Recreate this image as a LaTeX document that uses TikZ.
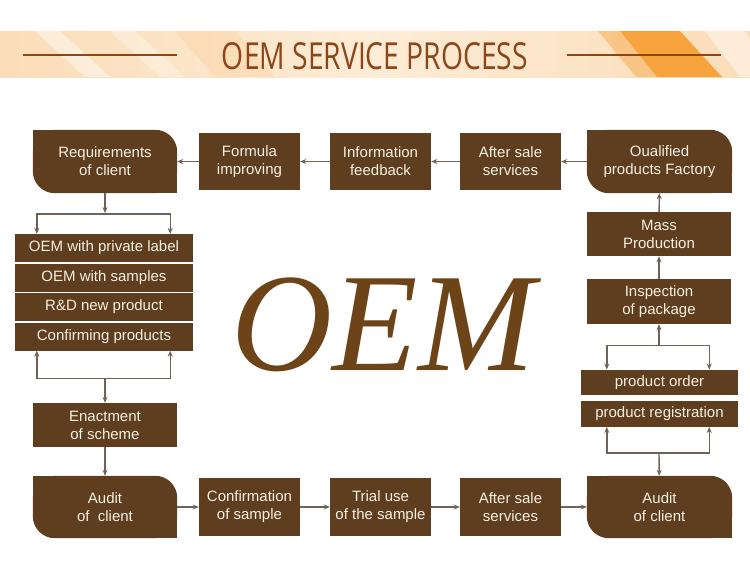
\documentclass[tikz,border=0pt]{standalone}
\usepackage{fontspec}
\usepackage{graphicx}
\setmainfont{Liberation Sans}
\newfontfamily\titlefont{Open Sans}
\newfontfamily\oemfont{Liberation Serif}
\usetikzlibrary{arrows.meta, backgrounds}

\definecolor{boxbrown}{RGB}{94,62,30}
\definecolor{boxtext}{RGB}{246,240,228}
\definecolor{linkgray}{RGB}{112,98,86}
\definecolor{titlebrown}{RGB}{140,70,24}
\definecolor{oembrown}{RGB}{108,68,24}
\definecolor{bannerA}{RGB}{251,221,184}
\definecolor{bannerB}{RGB}{253,236,214}
\definecolor{bandorange}{RGB}{247,163,62}

\begin{document}
\begin{tikzpicture}[
            x=1pt,
            y=-1pt,
            >={Stealth[length=6pt,width=5pt]},
            box/.style={fill=boxbrown, text=boxtext, font=\fontsize{15}{18}\selectfont,
                align=center, inner sep=0pt, minimum width=101pt, minimum height=57pt},
            leaf/.style={box, fill=none, minimum width=144pt, minimum height=63pt},
            wide/.style={box, minimum width=144pt, minimum height=44pt},
            row/.style={box, minimum width=178pt, minimum height=28pt},
            slim/.style={box, minimum width=157pt, minimum height=25.5pt},
            link/.style={draw=linkgray, line width=1.4pt}
            ]

            \useasboundingbox (0,0) rectangle (750,570);

            % 标题栏
            \shade[left color=bannerA, right color=bannerA, middle color=bannerB] (0,31) rectangle (750,77);
            \fill[white, opacity=.45] (35,31) -- (60,31) -- (110,77) -- (85,77) -- cycle;
            \fill[white, opacity=.3] (110,31) -- (135,31) -- (185,77) -- (160,77) -- cycle;
            \fill[bannerA!80!orange, opacity=.3] (175,31) -- (235,31) -- (275,77) -- (215,77) -- cycle;
            \fill[bandorange, opacity=.45] (598,31) -- (620,31) -- (657,77) -- (636,77) -- cycle;
            \fill[bandorange] (620,31) -- (680,31) -- (722,77) -- (657,77) -- cycle;
            \fill[white, opacity=.45] (705,31) -- (745,31) -- (750,40) -- (750,77) -- (740,77) -- cycle;
            \draw[titlebrown, line width=1.2pt] (23,55) -- (177,55);
            \draw[titlebrown, line width=1.2pt] (567,55) -- (721,55);
            \node[text=titlebrown, inner sep=0pt] (title) at (375,56)
                {\resizebox{306pt}{27pt}{\titlefont OEM SERVICE PROCESS}};

            % 中间大字
            \node[text=oembrown, anchor=base, inner sep=0pt,
                font=\oemfont\itshape\fontsize{140}{140}\selectfont] (oem) at (383,370) {OEM};

            % 上排
            \node[leaf] (req) at (105,161.5) {Requirements\\of client};
            \node[box] (form) at (249.5,161.5) {Formula\\improving};
            \node[box] (info) at (380.5,161.5) {Information\\feedback};
            \node[box] (saletop) at (510.5,161.5) {After sale\\services};
            \node[leaf, minimum width=145pt] (qual) at (659.5,161.5) {Oualified\\products Factory};

            % 左列
            \node[row] (label) at (104,248) {OEM with private label};
            \node[row] (samples) at (104,277.5) {OEM with samples};
            \node[row] (rdnew) at (104,307) {R\&D new product};
            \node[row] (confirm) at (104,336.5) {Confirming products};
            \node[wide] (enact) at (105,425) {Enactment\\of scheme};
            \node[leaf, minimum height=62pt] (auditl) at (105,507) {Audit\\of \ client};

            % 下排
            \node[box, minimum height=58pt] (conf) at (249.5,507) {Confirmation\\of sample};
            \node[box, minimum height=58pt] (trial) at (380.5,507) {Trial use\\of the sample};
            \node[box, minimum height=58pt] (salebot) at (510.5,507) {After sale\\services};
            \node[leaf, minimum width=145pt, minimum height=62pt] (auditr) at (659.5,507) {Audit\\of client};

            % 右列
            \node[wide] (mass) at (659,234) {Mass\\Production};
            \node[wide, minimum height=45pt] (insp) at (659,301.5) {Inspection\\of package};
            \node[slim] (order) at (659.5,382.5) {product order};
            \node[slim] (regist) at (659.5,414) {product registration};

            % 圆角框底色
            \begin{scope}[on background layer]
                \foreach \n in {req, qual, auditl, auditr} {
                    \fill[boxbrown, rounded corners=22pt] (\n.north west) rectangle (\n.south east);
                    \fill[boxbrown] (\n.north west) rectangle (\n.center);
                    \fill[boxbrown] (\n.center) rectangle (\n.south east);
                }
            \end{scope}

            % 分叉点
            \coordinate (reqsplit) at (105,213);
            \coordinate (confsplit) at (105,378);
            \coordinate (ordsplit) at (659,346);
            \coordinate (regsplit) at (659,453);

            % 连线
            \draw[link, ->] (qual) -- (saletop);
            \draw[link, ->] (saletop) -- (info);
            \draw[link, ->] (info) -- (form);
            \draw[link, ->] (form) -- (req);

            \draw[link, ->] (req) -- (reqsplit);
            \draw[link, <->] ([xshift=22pt]label.north west) -- ++(0,-20) -| ([xshift=-23pt]label.north east);
            \draw[link, <->] ([xshift=22pt]confirm.south west) -- ++(0,28) -| ([xshift=-23pt]confirm.south east);
            \draw[link, ->] (confsplit) -- (enact);
            \draw[link, ->] (enact) -- (auditl);

            \draw[link, ->] (auditl) -- (conf);
            \draw[link, ->] (conf) -- (trial);
            \draw[link, ->] (trial) -- (salebot);
            \draw[link, ->] (salebot) -- (auditr);

            \draw[link, ->] (regsplit) -- (auditr);
            \draw[link, <->] ([xshift=26pt]regist.south west) -- ++(0,26) -| ([xshift=-29pt]regist.south east);
            \draw[link, <->] ([xshift=26pt]order.north west) -- ++(0,-24) -| ([xshift=-29pt]order.north east);
            \draw[link, ->] (ordsplit) -- (insp);
            \draw[link, ->] (insp) -- (mass);
            \draw[link, ->] (mass) -- (qual);
        \end{tikzpicture}
\end{document}
